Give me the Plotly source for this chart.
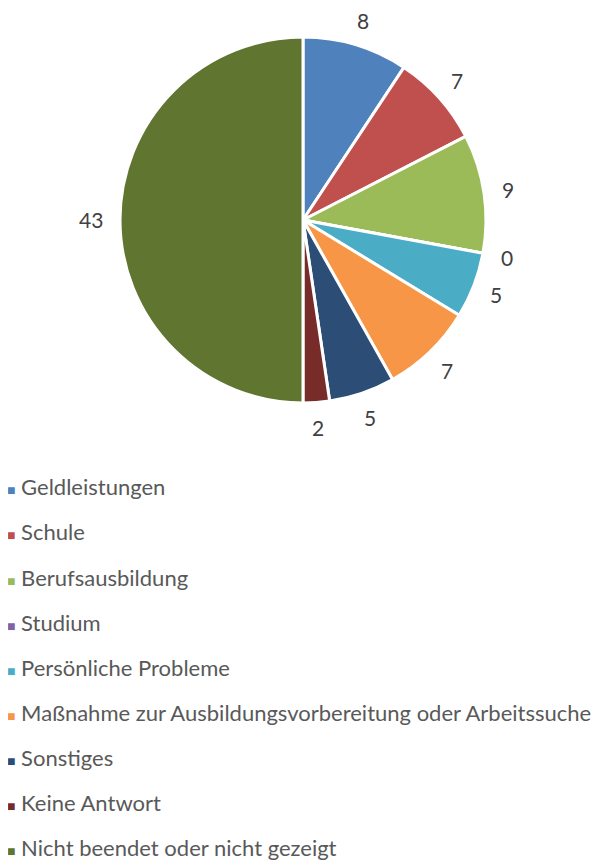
import math
import plotly.graph_objects as go

categories = ["Geldleistungen", "Schule", "Berufsausbildung", "Studium",
              "Persönliche Probleme",
              "Maßnahme zur Ausbildungsvorbereitung oder Arbeitssuche",
              "Sonstiges", "Keine Antwort", "Nicht beendet oder nicht gezeigt"]
values = [8, 7, 9, 0, 5, 7, 5, 2, 43]
colors = ["#4F81BD", "#C0504D", "#9BBB59", "#8064A2", "#4BACC6",
          "#F79646", "#2C4D75", "#772C2A", "#5F7530"]

W, H = 609, 900                     # taller than the window so the legend is not clipped
OFF = 8                             # page body margin offset
CX, CY, R = 303 - OFF, 220 - OFF, 183   # pie centre / radius in figure pixels
GAP = 18.5                          # gap between pie edge and label box

fig = go.Figure()
fig.add_trace(go.Pie(
    labels=categories, values=values, sort=False, direction="clockwise",
    rotation=0, marker=dict(colors=colors, line=dict(color="white", width=3)),
    textinfo="none", showlegend=False, hoverinfo="label+value",
    domain=dict(x=[(CX - R) / W, (CX + R) / W], y=[1 - (CY + R) / H, 1 - (CY - R) / H]),
))

# value labels placed outside each slice, from the data's cumulative angles
total = sum(values)
cum = 0
for v in values:
    mid = (cum + v / 2) / total * 2 * math.pi
    cum += v
    ux, uy = math.sin(mid), -math.cos(mid)
    hw, hh = 5.5 * len(str(v)), 7
    px = CX + (R + GAP) * ux + hw * ux
    py = CY + (R + GAP) * uy + hh * uy
    fig.add_annotation(x=px / W, y=1 - py / H, xref="paper", yref="paper",
                       text=str(v), showarrow=False, xanchor="center", yanchor="middle",
                       borderpad=0,
                       font=dict(family="Lato", size=21, color="#404040"))

for cat, col in zip(categories, colors):
    fig.add_trace(go.Scatter(
        x=[None], y=[None], mode="markers", legendgroup=cat,
        name=f'<span style="color:{col};font-size:14px">■</span>\u00a0{cat}',
        marker=dict(symbol="square", size=9, color="rgba(0,0,0,0)"),
    ))

fig.update_layout(
    width=W, height=H, margin=dict(l=0, r=0, t=0, b=0, autoexpand=False),
    paper_bgcolor="white", plot_bgcolor="white",
    xaxis=dict(visible=False), yaxis=dict(visible=False),
    legend=dict(x=-41 / W, y=1 - 458 / H, xanchor="left", yanchor="top",
                font=dict(family="Lato", size=22, color="#595959"),
                tracegroupgap=13.5, itemwidth=30, bgcolor="rgba(0,0,0,0)"),
)
fig.write_html("out.html")
